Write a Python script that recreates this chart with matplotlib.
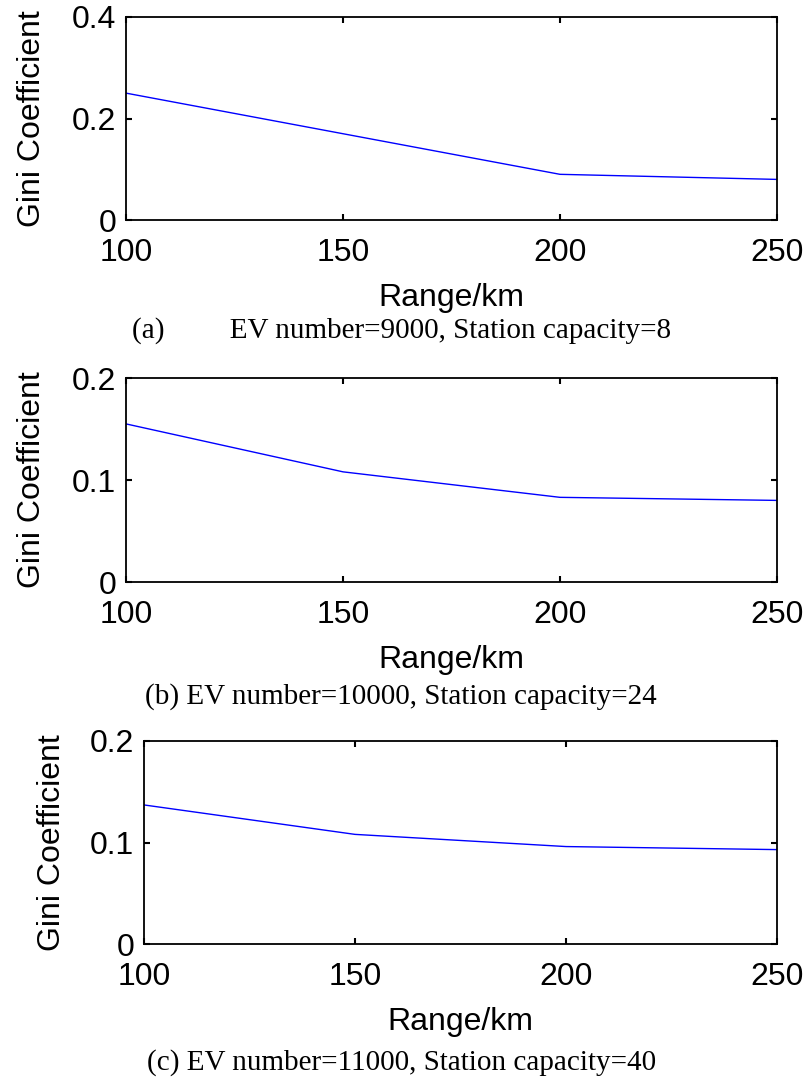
import matplotlib
matplotlib.use('Agg')
import matplotlib.pyplot as plt

# data
ranges = [100, 150, 200, 250]
gini_a = [0.25, 0.17, 0.09, 0.08]
gini_b = [0.155, 0.108, 0.083, 0.080]
gini_c = [0.137, 0.108, 0.096, 0.093]

yticks_a = [0, 0.2, 0.4]
yticks_bc = [0, 0.1, 0.2]
ytick_labels_a = ['0', '0.2', '0.4']
ytick_labels_bc = ['0', '0.1', '0.2']

captions = [
    '(a)         EV number=9000, Station capacity=8',
    '(b) EV number=10000, Station capacity=24',
    '(c) EV number=11000, Station capacity=40',
]

W, H = 807, 1080


def px_axes(fig, left, right, top, bottom):
    return fig.add_axes([left / W, 1 - bottom / H, (right - left) / W, (bottom - top) / H])


def style(ax, series, yticks, ylabels, ylim, caption, cap_y):
    ax.plot(ranges, series, color='#0000ff', lw=1.0)
    ax.set_xlim(100, 250)
    ax.set_ylim(*ylim)
    ax.set_xticks(ranges)
    ax.set_xticklabels([str(r) for r in ranges])
    ax.set_yticks(yticks)
    ax.set_yticklabels(ylabels)
    ax.tick_params(direction='in', length=4, width=1.5, top=True, right=True,
                   labelsize=23)
    ax.tick_params(axis='x', pad=13)
    ax.tick_params(axis='y', pad=7)
    for s in ax.spines.values():
        s.set_linewidth(1.3)
    ax.set_xlabel('Range/km', fontsize=23)
    ax.xaxis.set_label_coords(0.5, -0.31)
    ax.set_ylabel('Gini Coefficient', fontsize=23)
    ax.yaxis.set_label_coords(-0.122, 0.5)
    fig.text(0.497, 1 - cap_y / H, caption,
             ha='center', va='center', fontsize=21, family='Liberation Serif')


plt.rcParams['font.family'] = ['Liberation Sans', 'DejaVu Sans']
fig = plt.figure(figsize=(W / 100, H / 100), dpi=100)

ax1 = px_axes(fig, 126, 777, 17, 220)
style(ax1, gini_a, yticks_a, ytick_labels_a, (0, 0.4), captions[0], 331)

ax2 = px_axes(fig, 126, 777, 378, 582)
style(ax2, gini_b, yticks_bc, ytick_labels_bc, (0, 0.2), captions[1], 697)

ax3 = px_axes(fig, 144, 777, 741, 944)
style(ax3, gini_c, yticks_bc, ytick_labels_bc, (0, 0.2), captions[2], 1063)

fig.savefig('out.png', dpi=100)
